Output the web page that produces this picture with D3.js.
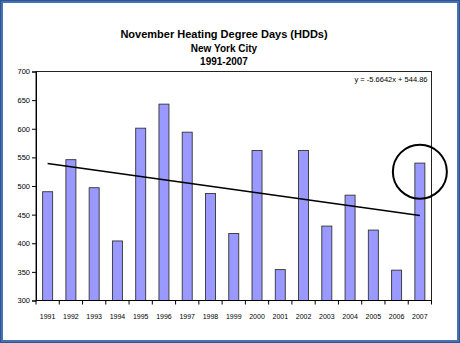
<!DOCTYPE html>
<html>
<head>
<meta charset="utf-8">
<script src="https://cdn.jsdelivr.net/npm/d3@7"></script>
<style>
body{margin:0;background:#fff;}
svg{display:block;font-family:"Liberation Sans",Arial,sans-serif;}
</style>
</head>
<body>
<div id="chart"></div>
<script>
var w = 460;
var h = 343;

// plot area edges
var plotLeft = 36, plotRight = 431.5, plotTop = 71.5, plotBottom = 300.5;

var years = ["1991","1992","1993","1994","1995","1996","1997","1998","1999",
             "2000","2001","2002","2003","2004","2005","2006","2007"];
var hdd = [490,546,497,404,601,643,594,487,417,562,354,562,430,484,423,353,540];
var yTicks = [300,350,400,450,500,550,600,650,700];
var trendSlope = -5.6642;
var trendIntercept = 544.86;
var titleLines = ["November Heating Degree Days (HDDs)","New York City","1991-2007"];

var svg = d3.select("#chart").append("svg")
  .attr("width", w)
  .attr("height", h);

// frame
svg.append("rect")
  .attr("x", 1.5).attr("y", 1.5)
  .attr("width", w - 3).attr("height", h - 3)
  .attr("fill", "#fff")
  .attr("stroke", "#4472b4")
  .attr("stroke-width", 3);
svg.append("rect")
  .attr("x", 0.5).attr("y", 0.5)
  .attr("width", w - 1).attr("height", h - 1)
  .attr("fill", "none")
  .attr("stroke", "#2f5590")
  .attr("stroke-width", 1);

var xScale = d3.scaleBand()
  .domain(years)
  .range([plotLeft, plotRight])
  .paddingInner(0.57)
  .paddingOuter(0.285);

var yScale = d3.scaleLinear()
  .domain([300, 700])
  .range([plotBottom, plotTop]);

// titles
svg.selectAll(".title")
  .data(titleLines)
  .enter().append("text")
  .attr("class", "title")
  .attr("x", 224)
  .attr("y", function(d, i){ return [37.5, 52, 65][i]; })
  .attr("text-anchor", "middle")
  .attr("font-weight", "bold")
  .attr("font-size", function(d, i){ return i === 0 ? "11px" : "10px"; })
  .attr("fill", "#000")
  .text(function(d){ return d; });

// plot border
svg.append("rect")
  .attr("x", plotLeft).attr("y", plotTop)
  .attr("width", plotRight - plotLeft).attr("height", plotBottom - plotTop)
  .attr("fill", "#fff")
  .attr("stroke", "#222")
  .attr("stroke-width", 1);

// bars
svg.selectAll(".bar")
  .data(hdd)
  .enter().append("rect")
  .attr("class", "bar")
  .attr("x", function(d, i){ return xScale(years[i]); })
  .attr("y", function(d){ return yScale(d); })
  .attr("width", xScale.bandwidth())
  .attr("height", function(d){ return plotBottom - yScale(d); })
  .attr("fill", "#9999ff")
  .attr("stroke", "#333")
  .attr("stroke-width", 0.9);

// y axis
var yAxis = svg.append("g")
  .attr("transform", "translate(" + plotLeft + ",0)")
  .call(d3.axisLeft(yScale).tickValues(yTicks).tickSize(4).tickPadding(2));
yAxis.selectAll("text").attr("font-size", "7.5px").attr("fill", "#000").attr("font-family", "Liberation Sans, Arial, sans-serif");
yAxis.selectAll("line,path").attr("stroke", "#000");

// x axis, ticks sit between categories
var step = xScale.step();
var xAxis = svg.append("g")
  .attr("transform", "translate(0," + plotBottom + ")");
xAxis.append("line")
  .attr("x1", plotLeft).attr("x2", plotRight)
  .attr("stroke", "#000");
xAxis.selectAll(".xt")
  .data(d3.range(years.length + 1))
  .enter().append("line")
  .attr("class", "xt")
  .attr("x1", function(i){ return plotLeft + i * step; })
  .attr("x2", function(i){ return plotLeft + i * step; })
  .attr("y1", 0).attr("y2", 4)
  .attr("stroke", "#000");
xAxis.selectAll(".xl")
  .data(years)
  .enter().append("text")
  .attr("class", "xl")
  .attr("x", function(d){ return xScale(d) + xScale.bandwidth() / 2; })
  .attr("y", 18)
  .attr("text-anchor", "middle")
  .attr("font-size", "7px")
  .attr("fill", "#000")
  .text(function(d){ return d; });

// linear trend from the regression equation
var trend = [1, years.length].map(function(n){
  return { year: years[n - 1], v: trendSlope * n + trendIntercept };
});
var trendLine = d3.line()
  .x(function(d){ return xScale(d.year) + xScale.bandwidth() / 2; })
  .y(function(d){ return yScale(d.v); });
svg.append("path")
  .datum(trend)
  .attr("d", trendLine)
  .attr("fill", "none")
  .attr("stroke", "#000")
  .attr("stroke-width", 1.6);

svg.append("text")
  .attr("x", plotRight - 4)
  .attr("y", 82)
  .attr("text-anchor", "end")
  .attr("font-size", "7.5px")
  .attr("fill", "#000")
  .text("y = " + trendSlope + "x + " + trendIntercept);

// highlight around the latest year
svg.append("circle")
  .attr("cx", xScale("2007") + xScale.bandwidth() / 2)
  .attr("cy", yScale(525))
  .attr("r", 27)
  .attr("fill", "none")
  .attr("stroke", "#000")
  .attr("stroke-width", 2);
</script>
</body>
</html>
